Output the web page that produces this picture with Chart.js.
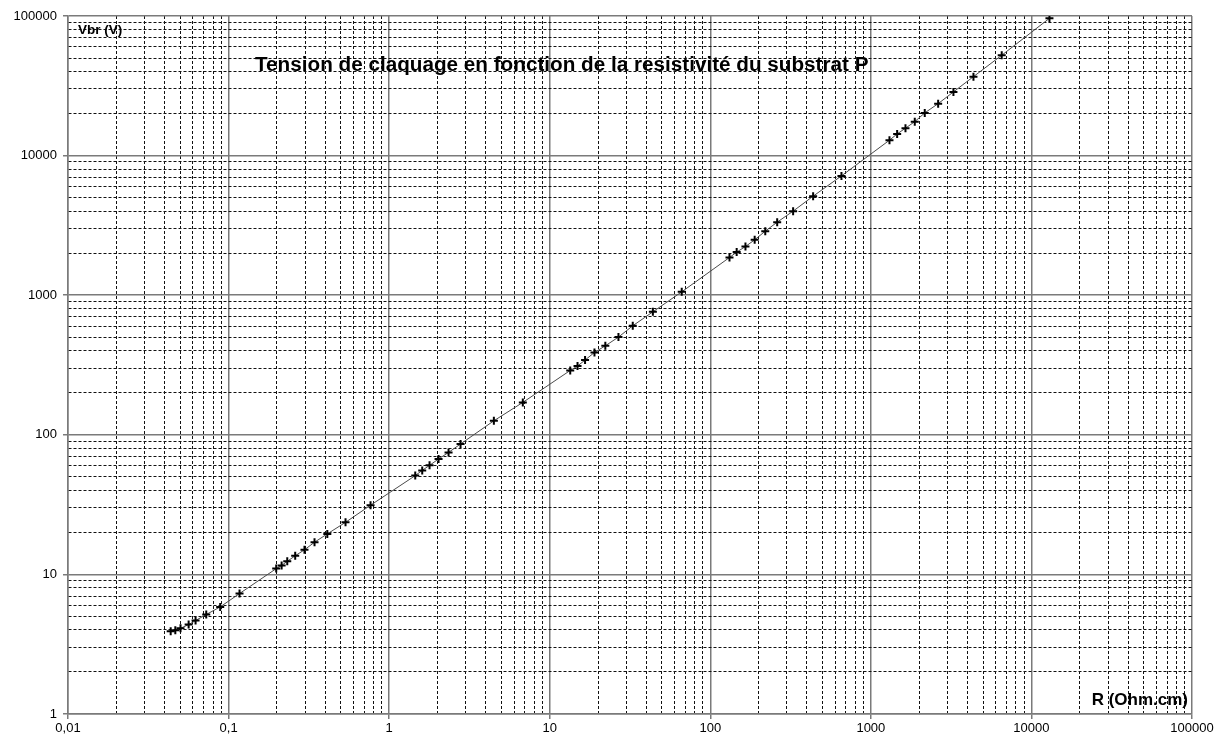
<!DOCTYPE html>
<html><head><meta charset="utf-8">
<script src="https://cdn.jsdelivr.net/npm/chart.js@4.4.1/dist/chart.umd.min.js"></script>
<style>html,body{margin:0;padding:0;background:#fff}#wrap{width:1222px;height:747px;position:relative}</style>
</head><body><div id="wrap"><canvas id="c" width="1222" height="747"></canvas></div>
<script>
// ---- data ----
const resistivity = [0.0436, 0.0466, 0.0502, 0.0564, 0.0623, 0.0726, 0.0887, 0.117, 0.198, 0.214, 0.232, 0.260, 0.297, 0.343, 0.412, 0.535, 0.766, 1.454, 1.607, 1.785, 2.031, 2.344, 2.784, 4.49, 6.80, 13.42, 14.9, 16.6, 19.0, 22.2, 26.8, 32.9, 43.9, 66.4, 131.7, 146, 165.6, 189, 220, 261, 328, 437, 656, 1306, 1458, 1643, 1877, 2166, 2625, 3268, 4355, 6531, 12950];
const breakdownVoltage = [3.92, 3.98, 4.11, 4.37, 4.67, 5.16, 5.85, 7.29, 11.0, 11.6, 12.4, 13.6, 15.0, 17.0, 19.5, 23.6, 31.3, 51.0, 55.6, 60.4, 67.1, 74.8, 85.9, 126, 170.6, 289, 311, 343, 389, 434, 501, 604, 760, 1057, 1862, 2035, 2232, 2493, 2877, 3336, 4000, 5121, 7157, 12890, 14300, 15710, 17510, 20220, 23560, 28580, 36780, 52320, 96270];
const xTickValues = [0.01, 0.1, 1, 10, 100, 1000, 10000, 100000];
const xTickLabels = ['0,01', '0,1', '1', '10', '100', '1000', '10000', '100000'];
const yTickValues = [1, 10, 100, 1000, 10000, 100000];
const yTickLabels = ['1', '10', '100', '1000', '10000', '100000'];
const chartTitle = 'Tension de claquage en fonction de la resistivité du substrat P';
const yAxisTitle = 'Vbr (V)';
const xAxisTitle = 'R (Ohm.cm)';

const FONT = '"Liberation Sans", Arial, Helvetica, sans-serif';

// minor/major log grid ticks (1..9 x each decade) between the first and last labelled decade
function gridTicks(decades) {
  const t = [];
  for (let i = 0; i < decades.length - 1; i++) {
    for (let m = 1; m < 10; m++) {
      t.push({ value: parseFloat((m * decades[i]).toPrecision(6)), major: m === 1 });
    }
  }
  t.push({ value: decades[decades.length - 1], major: true });
  return t;
}
function labelFor(value, vals, labels) {
  for (let i = 0; i < vals.length; i++) {
    if (Math.abs(Math.log10(value) - Math.log10(vals[i])) < 1e-9) return labels[i];
  }
  return '';
}
const isMajor = ctx => !!(ctx.tick && ctx.tick.major);
const gridOpts = {
  color: ctx => isMajor(ctx) ? '#7a7a7a' : '#111',
  lineWidth: ctx => isMajor(ctx) ? 1.5 : 1,
  tickColor: ctx => isMajor(ctx) ? '#7a7a7a' : 'rgba(0,0,0,0)',
  tickLength: 5,
  drawTicks: true
};
const borderOpts = {
  display: true, color: '#7a7a7a', width: 1.5,
  dash: ctx => isMajor(ctx) ? [] : [3, 2]
};

const textPlugin = {
  id: 'texts',
  afterDraw(chart) {
    const ctx = chart.ctx;
    ctx.save();
    ctx.fillStyle = '#000';
    ctx.textBaseline = 'alphabetic';
    ctx.textAlign = 'left';
    ctx.font = 'bold 20.7px ' + FONT;
    ctx.fillText(chartTitle, 255, 71);
    ctx.font = 'bold 13.5px ' + FONT;
    ctx.fillText(yAxisTitle, 78, 34);
    ctx.textAlign = 'right';
    ctx.font = 'bold 17px ' + FONT;
    ctx.fillText(xAxisTitle, 1188, 705);
    ctx.restore();
  }
};

new Chart(document.getElementById('c'), {
  type: 'scatter',
  data: {
    datasets: [{
      data: resistivity.map((x, i) => ({ x: x, y: breakdownVoltage[i] })),
      showLine: true,
      borderColor: '#4a4a4a',
      borderWidth: 1,
      pointStyle: 'cross',
      pointRadius: 4,
      pointBorderWidth: 2,
      pointBorderColor: '#000',
      pointBackgroundColor: '#000',
      pointHoverRadius: 4
    }]
  },
  options: {
    responsive: false,
    animation: false,
    devicePixelRatio: 1,
    layout: { padding: { left: 0, top: 16, right: 30, bottom: 0 } },
    plugins: { legend: { display: false }, tooltip: { enabled: false }, title: { display: false } },
    scales: {
      x: {
        type: 'logarithmic',
        min: xTickValues[0], max: xTickValues[xTickValues.length - 1],
        afterBuildTicks: s => { s.ticks = gridTicks(xTickValues); },
        afterFit: s => { s.height = 33; },
        ticks: {
          autoSkip: false, maxRotation: 0, padding: 2, color: '#000',
          font: { family: FONT, size: 13 },
          callback: v => labelFor(v, xTickValues, xTickLabels)
        },
        grid: gridOpts,
        border: borderOpts
      },
      y: {
        type: 'logarithmic',
        min: yTickValues[0], max: yTickValues[yTickValues.length - 1],
        afterBuildTicks: s => { s.ticks = gridTicks(yTickValues); },
        afterFit: s => { s.width = 68; },
        ticks: {
          autoSkip: false, padding: 6, color: '#000',
          font: { family: FONT, size: 13 },
          callback: v => labelFor(v, yTickValues, yTickLabels)
        },
        grid: gridOpts,
        border: borderOpts
      }
    }
  },
  plugins: [textPlugin]
});
</script>
</body></html>
